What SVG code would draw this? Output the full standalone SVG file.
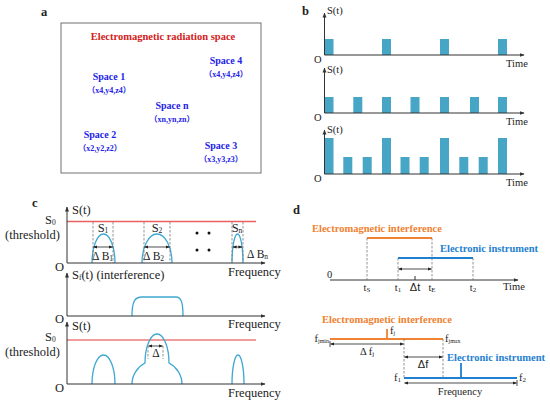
<svg xmlns="http://www.w3.org/2000/svg" width="550" height="406" viewBox="0 0 550 406" font-family="'Liberation Serif', 'Times New Roman', Times, serif">
<defs>
<marker id="ax" viewBox="0 0 10 10" refX="9" refY="5" markerWidth="5" markerHeight="5" orient="auto-start-reverse" markerUnits="userSpaceOnUse"><path d="M0,1 L10,5 L0,9 z" fill="#333"/></marker>
<marker id="da" viewBox="0 0 10 10" refX="9" refY="5" markerWidth="4" markerHeight="4" orient="auto-start-reverse" markerUnits="userSpaceOnUse"><path d="M0,1 L10,5 L0,9 z" fill="#222"/></marker>
<style>
text{font-family:'Liberation Serif','Times New Roman',Times,serif;fill:#222}
.pl{font-size:12.5px;font-weight:bold}
.bl{font-size:10px;font-weight:bold;fill:#2323e8}
.co{font-size:8px;font-weight:bold;fill:#2323e8;font-family:'Liberation Serif','Noto Sans CJK SC',serif}
.bt{font-size:10.5px}
.ct{font-size:12.5px}
.dt{font-size:10.5px}
.sa{font-family:'Liberation Sans',Arial,sans-serif;font-size:11px}
.axis{stroke:#333;stroke-width:1;fill:none}
.pulse{fill:#47a6c5}
.hump{stroke:#3ea8d2;stroke-width:1.3;fill:none}
.dash{stroke:#777;stroke-width:0.8;stroke-dasharray:2.5,1.5;fill:none}
.dbl{stroke:#222;stroke-width:0.8;fill:none;marker-start:url(#da);marker-end:url(#da)}
.orange{stroke:#f08231;stroke-width:1.8;fill:none}
.blue{stroke:#1f7fd0;stroke-width:1.8;fill:none}
.ot{font-size:10.5px;font-weight:bold;fill:#f08231}
.btx{font-size:10.5px;font-weight:bold;fill:#1f7fd0}
</style>
</defs>

<g id="panel-a">
<text class="pl" x="41" y="16">a</text>
<rect x="61" y="23" width="200" height="150" fill="#fff" stroke="#707070" stroke-width="1"/>
<text x="163" y="40" text-anchor="middle" style="font-size:10.5px;font-weight:bold;fill:#d42020">Electromagnetic radiation space</text>
<g id="space1"><text class="bl" x="109" y="80" text-anchor="middle">Space 1</text><text class="co" x="109" y="93" text-anchor="middle">（x4,y4,z4）</text></g>
<g id="space4"><text class="bl" x="226" y="64" text-anchor="middle">Space 4</text><text class="co" x="226" y="77" text-anchor="middle">（x4,y4,z4）</text></g>
<g id="spacen"><text class="bl" x="172" y="109" text-anchor="middle">Space n</text><text class="co" x="172" y="122" text-anchor="middle">（xn,yn,zn）</text></g>
<g id="space2"><text class="bl" x="100" y="138" text-anchor="middle">Space 2</text><text class="co" x="100" y="151" text-anchor="middle">（x2,y2,z2）</text></g>
<g id="space3"><text class="bl" x="221" y="149" text-anchor="middle">Space 3</text><text class="co" x="221" y="162" text-anchor="middle">（x3,y3,z3）</text></g>
</g>

<g id="panel-b">
<text class="pl" x="302" y="15">b</text>
<g id="b-plot1">
<rect class="pulse" x="324.5" y="39" width="9" height="16"/>
<rect class="pulse" x="382" y="39" width="9" height="16"/>
<rect class="pulse" x="440" y="39" width="9" height="16"/>
<rect class="pulse" x="498" y="39" width="9" height="16"/>
<text class="bt" x="327" y="14">S(t)</text>
<text class="bt" x="314" y="63">O</text>
<text class="bt" x="506" y="67">Time</text>
</g>
<g id="b-plot2">
<rect class="pulse" x="324.5" y="97" width="9" height="16"/>
<rect class="pulse" x="353.3" y="97" width="9" height="16"/>
<rect class="pulse" x="382" y="97" width="9" height="16"/>
<rect class="pulse" x="410.5" y="97" width="9" height="16"/>
<rect class="pulse" x="440" y="97" width="9" height="16"/>
<rect class="pulse" x="470" y="97" width="9" height="16"/>
<rect class="pulse" x="498" y="97" width="9" height="16"/>
<text class="bt" x="327" y="73">S(t)</text>
<text class="bt" x="314" y="121">O</text>
<text class="bt" x="506" y="125">Time</text>
</g>
<g id="b-plot3">
<rect class="pulse" x="324.5" y="138" width="9" height="36"/>
<rect class="pulse" x="343.3" y="157" width="9" height="17"/>
<rect class="pulse" x="362.7" y="157" width="9" height="17"/>
<rect class="pulse" x="382" y="138" width="9" height="36"/>
<rect class="pulse" x="400.5" y="157" width="9" height="17"/>
<rect class="pulse" x="419.7" y="157" width="9" height="17"/>
<rect class="pulse" x="440" y="138" width="9" height="36"/>
<rect class="pulse" x="459.3" y="157" width="9" height="17"/>
<rect class="pulse" x="478.7" y="157" width="9" height="17"/>
<rect class="pulse" x="498" y="138" width="9" height="36"/>
<text class="bt" x="327" y="133">S(t)</text>
<text class="bt" x="314" y="182">O</text>
<text class="bt" x="506" y="186">Time</text>
</g>
</g>

<g id="panel-c">
<text class="pl" x="32" y="207">c</text>
<g id="c-plot1">
<line x1="67" y1="221.5" x2="256" y2="221.5" stroke="#e86060" stroke-width="1.3"/>
<path class="hump" d="M92,263 A11.5,29 0 0 1 115,263"/>
<path class="hump" d="M142,263 A15,29 0 0 1 172,263"/>
<path class="hump" d="M232,263 A5.5,29 0 0 1 243,263"/>
<circle cx="197" cy="233" r="1.5" fill="#111"/><circle cx="209" cy="233" r="1.5" fill="#111"/>
<circle cx="197" cy="250" r="1.5" fill="#111"/><circle cx="209" cy="250" r="1.5" fill="#111"/>
<text class="ct" x="72" y="214">S(t)</text>
<text class="ct" x="45" y="224">S<tspan font-size="7.5" dy="1">0</tspan></text>
<text class="ct" x="5" y="239">(threshold)</text>
<text class="ct" x="55" y="271">O</text>
<text class="ct" x="228" y="276">Frequency</text>
<text class="ct" x="103" y="232" text-anchor="middle">S<tspan font-size="7.5" dy="1">1</tspan></text>
<text class="ct" x="157" y="232" text-anchor="middle">S<tspan font-size="7.5" dy="1">2</tspan></text>
<text class="ct" x="237" y="232" text-anchor="middle">S<tspan font-size="7.5" dy="1">n</tspan></text>
<text x="92" y="260" style="font-size:11.5px">Δ B<tspan font-size="7.5" dy="1">1</tspan></text>
<text x="143" y="260" style="font-size:11.5px">Δ B<tspan font-size="7.5" dy="1">2</tspan></text>
<text x="247" y="258" style="font-size:11.5px">Δ B<tspan font-size="7.5" dy="1">n</tspan></text>
</g>
<g id="c-plot2">
<path class="hump" d="M132,316 C132,301 135,297 142,297 L176,297 C181,297 183,302 183,316"/>
<text class="ct" x="72" y="279">S<tspan font-size="7.5" dy="1">f</tspan><tspan dy="-1">(t) (interference)</tspan></text>
<text class="ct" x="55" y="323">O</text>
<text class="ct" x="228" y="328">Frequency</text>
</g>
<g id="c-plot3">
<line x1="67" y1="340" x2="256" y2="340" stroke="#e53838" stroke-width="1"/>
<path class="hump" d="M92,384 A11.5,29 0 0 1 115,384"/>
<path class="hump" d="M132,384 A25,24 0 0 1 145,363 A12,29 0 0 1 169,363 A25,24 0 0 1 182,384"/>
<path class="hump" d="M232,384 A6,29 0 0 1 244,384"/>
<text class="ct" x="72" y="330">S(t)</text>
<text class="ct" x="45" y="341">S<tspan font-size="7.5" dy="1">0</tspan></text>
<text class="ct" x="5" y="356">(threshold)</text>
<text class="ct" x="55" y="392">O</text>
<text class="ct" x="228" y="397">Frequency</text>
<text x="156" y="357" text-anchor="middle" style="font-size:11.5px">Δ</text>
</g>
</g>

<g id="panel-d">
<text class="pl" x="293" y="214">d</text>
<g id="d-time">
<line class="orange" x1="367" y1="238" x2="432" y2="238"/>
<line class="blue" x1="398" y1="258" x2="473" y2="258"/>
<text class="ot" x="312" y="232">Electromagnetic interference</text>
<text class="btx" x="440" y="252">Electronic instrument</text>
<text class="dt" x="327" y="278">0</text>
<text class="dt" x="367" y="291" text-anchor="middle">t<tspan font-size="7" dy="1">S</tspan></text>
<text class="dt" x="398" y="291" text-anchor="middle">t<tspan font-size="7" dy="1">1</tspan></text>
<text class="dt" x="432" y="291" text-anchor="middle">t<tspan font-size="7" dy="1">E</tspan></text>
<text class="dt" x="473" y="291" text-anchor="middle">t<tspan font-size="7" dy="1">2</tspan></text>
<text class="sa" x="415" y="291" text-anchor="middle">Δt</text>
<text class="dt" x="503" y="290">Time</text>
</g>
<g id="d-freq">
<line class="orange" x1="330" y1="339" x2="443" y2="339"/>
<line class="orange" x1="387" y1="339" x2="387" y2="329"/>
<line class="blue" x1="404" y1="378" x2="517" y2="378"/>
<line class="blue" x1="461" y1="378" x2="461" y2="363"/>
<text class="ot" x="322" y="323">Electromagnetic interference</text>
<text class="btx" x="447" y="361">Electronic instrument</text>
<text class="dt" x="390" y="334">f<tspan font-size="6" dy="1">j</tspan></text>
<text class="dt" x="329" y="342" text-anchor="end">f<tspan font-size="6" dy="1">jmin</tspan></text>
<text class="dt" x="445" y="342">f<tspan font-size="6" dy="1">jmax</tspan></text>
<text class="dt" x="367" y="355" text-anchor="middle">Δ f<tspan font-size="7" dy="1">j</tspan></text>
<text class="sa" x="423" y="368" text-anchor="middle">Δf</text>
<text class="dt" x="401" y="381" text-anchor="end">f<tspan font-size="7" dy="1">1</tspan></text>
<text class="dt" x="519" y="381">f<tspan font-size="7" dy="1">2</tspan></text>
<text class="dt" x="460" y="395" text-anchor="middle">Frequency</text>
</g>
</g>

<g id="connectors">
<path class="axis" d="M324.5,55 V13" marker-end="url(#ax)"/>
<path class="axis" d="M324.5,55 H524" marker-end="url(#ax)"/>
<path class="axis" d="M324.5,113 V68" marker-end="url(#ax)"/>
<path class="axis" d="M324.5,113 H524" marker-end="url(#ax)"/>
<path class="axis" d="M324.5,174 V130" marker-end="url(#ax)"/>
<path class="axis" d="M324.5,174 H524" marker-end="url(#ax)"/>
<path class="axis" d="M67,263 V207" marker-end="url(#ax)"/>
<path class="axis" d="M67,263 H265" marker-end="url(#ax)"/>
<path class="axis" d="M67,316 V273" marker-end="url(#ax)"/>
<path class="axis" d="M67,316 H265" marker-end="url(#ax)"/>
<path class="axis" d="M67,384 V322" marker-end="url(#ax)"/>
<path class="axis" d="M67,384 H265" marker-end="url(#ax)"/>
<path class="dash" d="M93,222 V263 M113,222 V263 M144,222 V263 M170,222 V263 M232,222 V263 M243,222 V263"/>
<path class="dbl" d="M93.5,247 H112.5"/>
<path class="dbl" d="M144.5,247 H169.5"/>
<path class="dbl" d="M233,247 H242"/>
<path class="dash" d="M148,346 V359 M163,346 V359"/>
<path class="dbl" d="M148.5,346 H162.5"/>
<path class="axis" d="M330,280 H518" marker-end="url(#ax)"/>
<path class="dash" d="M367,238 V280 M432,238 V280 M398,258 V280 M473,258 V280"/>
<path class="dbl" d="M398.5,269 H431.5"/>
<line x1="415" y1="276" x2="415" y2="280" stroke="#333" stroke-width="1"/>
<path class="dash" d="M404,339 V378 M443,339 V378"/>
<path class="dbl" d="M330.5,344 H403.5"/>
<path class="dbl" d="M404.5,357 H442.5"/>
<path class="dbl" d="M404.5,383 H516.5"/>
<path stroke="#222" stroke-width="0.8" d="M330,341 V347 M517,380 V386"/>
</g>
</svg>
